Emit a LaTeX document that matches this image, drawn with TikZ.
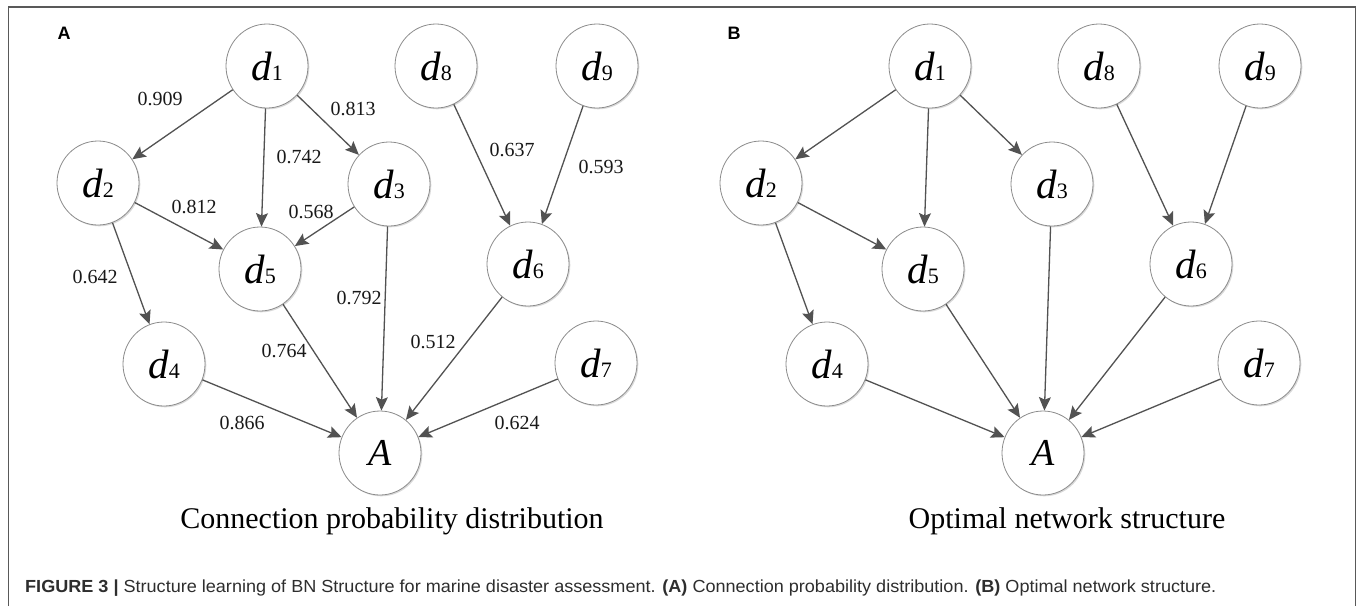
\documentclass[tikz,border=0pt]{standalone}
\usepackage{fontspec}
\setmainfont{Liberation Serif}
\newfontfamily\capfont{Liberation Sans}
\usetikzlibrary{arrows.meta,shapes.geometric,shadows}
\newcommand{\dlab}[1]{{\fontsize{41}{41}\selectfont\itshape d}{\fontsize{22}{22}\selectfont #1}}
\newcommand{\bnnodes}{%
  \node[bn] (d1) at (267,66) {\dlab{1}};
  \node[bn] (d8) at (436,66) {\dlab{8}};
  \node[bn] (d9) at (597,66) {\dlab{9}};
  \node[bn] (d2) at (98,183) {\dlab{2}};
  \node[bn] (d3) at (389,184) {\dlab{3}};
  \node[bn] (d5) at (260,269) {\dlab{5}};
  \node[bn] (d6) at (528,264) {\dlab{6}};
  \node[bn] (d4) at (164,364) {\dlab{4}};
  \node[bn] (d7) at (596,363) {\dlab{7}};
  \node[bn] (A) at (380,453) {\fontsize{38}{38}\selectfont\itshape A};
  \draw[arr] (d1) -- (d2);
  \draw[arr] (d1) -- (d5);
  \draw[arr] (d1) -- (d3);
  \draw[arr] (d8) -- (d6);
  \draw[arr] (d9) -- (d6);
  \draw[arr] (d2) -- (d5);
  \draw[arr] (d2) -- (d4);
  \draw[arr] (d3) -- (A);
  \draw[arr] (d5) -- (A);
  \draw[arr] (d6) -- (A);
  \draw[arr] (d4) -- (A);
  \draw[arr] (d7) -- (A);
}
\begin{document}
\begin{tikzpicture}[x=1pt,y=-1pt,
  bn/.style={ellipse, draw=black!45, line width=0.8pt, fill=white,
    minimum width=82pt, minimum height=84pt, inner sep=0pt,
    general shadow={fill=black!15, shadow xshift=1.3pt, shadow yshift=-1.3pt}},
  arr/.style={draw=black!68, line width=1.3pt,
    -{Stealth[length=13.5pt, width=12pt, inset=2.5pt]}},
  elab/.style={font=\fontsize{20}{20}\selectfont, inner sep=0pt, text=black!90},
  panlab/.style={font=\capfont\bfseries\fontsize{18}{18}\selectfont, inner sep=0pt},
  subcap/.style={font=\fontsize{30}{30}\selectfont, anchor=base, inner sep=0pt}]
\useasboundingbox (0,0) rectangle (1360,606);
\fill[white] (0,0) rectangle (1360,606);
\draw[black!65, line width=1.2pt] (8.5,606) -- (8.5,7) -- (1355.5,7) -- (1355.5,606);
% panel A
\node[panlab] (labA) at (64,33) {A};
\bnnodes
\draw[arr] (d3) -- (d5);
\node[elab] (l12) at (160,99) {0.909};
\node[elab] (l13) at (353,109) {0.813};
\node[elab] (l15) at (299,157) {0.742};
\node[elab] (l86) at (512,150) {0.637};
\node[elab] (l96) at (601,167) {0.593};
\node[elab] (l25) at (194,207) {0.812};
\node[elab] (l35) at (311,212) {0.568};
\node[elab] (l24) at (95,277) {0.642};
\node[elab] (l3A) at (359,298) {0.792};
\node[elab] (l5A) at (284,351) {0.764};
\node[elab] (l6A) at (433,342) {0.512};
\node[elab] (l4A) at (242,423) {0.866};
\node[elab] (l7A) at (517,423) {0.624};
\node[subcap] (capA) at (392,528) {Connection probability distribution};
% panel B
\begin{scope}[xshift=663pt, name prefix=B-]
\node[panlab] (lab) at (71,33) {B};
\bnnodes
\node[subcap] (cap) at (404,528) {Optimal network structure};
\end{scope}
% figure caption
\node[anchor=base west, inner sep=0pt, text=black!82] (fig) at (25,592)
  {\resizebox{1191pt}{\height}{\capfont\fontsize{17.5}{17.5}\selectfont\textbf{FIGURE 3 |} Structure learning of BN Structure for marine disaster assessment. \textbf{(A)} Connection probability distribution. \textbf{(B)} Optimal network structure.}};
\end{tikzpicture}
\end{document}
